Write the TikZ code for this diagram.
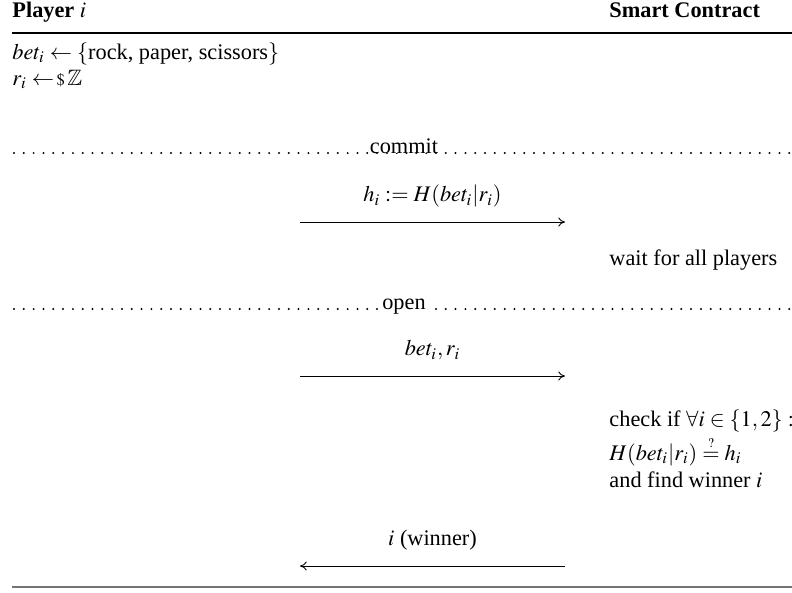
\documentclass[tikz,border=0pt]{standalone}
\usepackage{amsmath,amssymb}
\usepackage{mathptmx}
\usepackage[no-math]{fontspec}
\setmainfont{Liberation Serif}
\usetikzlibrary{positioning, arrows.meta}

\begin{document}
\begin{tikzpicture}[x=0.4484pt, y=-0.4484pt,
  txt/.style={anchor=base west, inner sep=0pt},
  head/.style={txt, font=\bfseries},
  msg/.style={-{To[length=3pt, width=4pt]}, line width=0.4pt},
  lbl/.style={midway, anchor=base, yshift=9pt, inner sep=0pt},
  phase/.style={line width=1pt, line cap=round, dash pattern=on 0pt off 4.4pt},
  phaselbl/.style={fill=white, inner xsep=0.6pt, inner ysep=0pt, anchor=base},
  rule/.style={line width=0.8pt}]
  \useasboundingbox (0,0) rectangle (792,592);
  \clip (0,0) rectangle (792,592);
  % Header
  \node[head] (player) at (12,17) {Player $\boldsymbol{i}$};
  \node[head] (contract) at (609,17) {Smart Contract};
  \draw[rule] (12,33) -- (800,33);
  % Player setup
  \node[txt] (bet) at (12,59) {$bet_i \leftarrow \{\text{rock, paper, scissors}\}$};
  \node[txt] (rand) at (12,85) {$r_i \leftarrow\!{\scriptstyle\$}\,\mathbb{Z}$};
  % Commit phase
  \draw[phase] (14,153) -- (800,153);
  \node[phaselbl] (commit) at (404,153) {commit};
  \coordinate (c1) at (300,222);
  \coordinate (c2) at (565,222);
  \draw[msg] (c1) -- (c2) node[lbl] (hash) {$h_i := H(bet_i|r_i)$};
  \node[txt] (wait) at (609,265) {wait for all players};
  % Open phase
  \draw[phase] (14,309) -- (800,309);
  \node[phaselbl] (open) at (404,309) {open};
  \coordinate (o1) at (300,376);
  \coordinate (o2) at (565,376);
  \draw[msg] (o1) -- (o2) node[lbl] (reveal) {$bet_i, r_i$};
  \node[txt] (check) at (609,426) {check if $\forall i \in \{1,2\}:$};
  \node[txt] (verify) at (609,460) {$H(bet_i|r_i) \overset{\scriptscriptstyle ?}{=} h_i$};
  \node[txt] (find) at (609,487) {and find winner $i$};
  % Result
  \coordinate (w1) at (565,566);
  \coordinate (w2) at (300,566);
  \draw[msg] (w1) -- (w2) node[lbl] (winner) {$i$ (winner)};
  \draw[rule, black!55] (12,587) -- (800,587);
\end{tikzpicture}
\end{document}
